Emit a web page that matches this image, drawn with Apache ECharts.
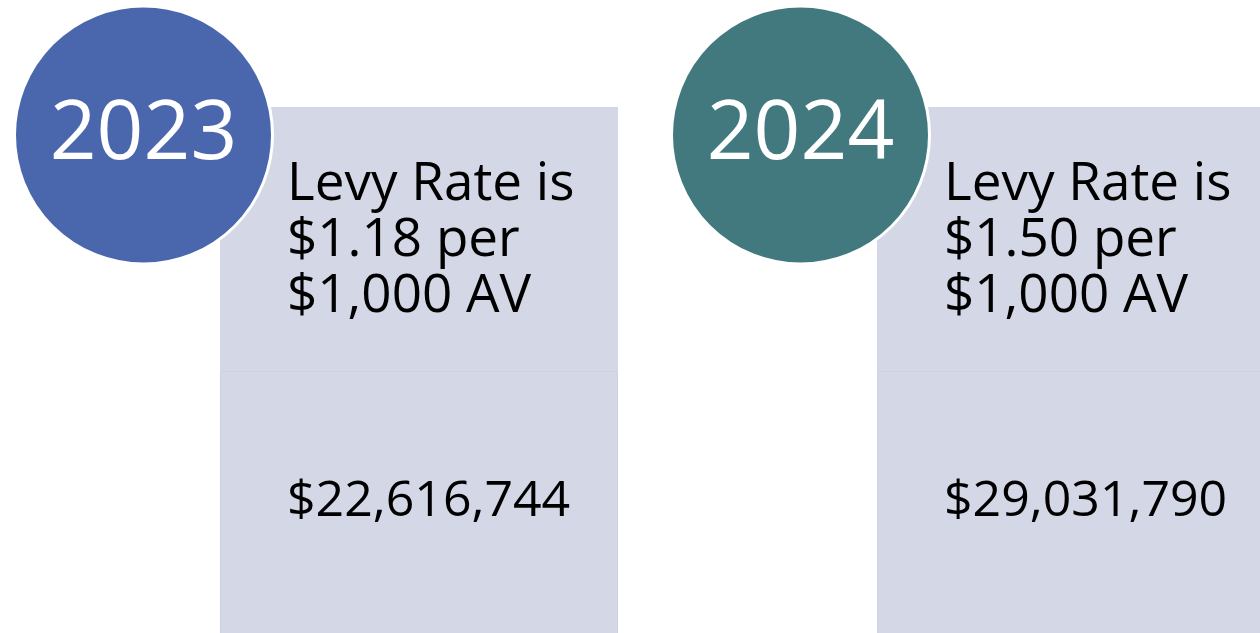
<!DOCTYPE html>
<html>
<head>
<meta charset="utf-8">
<script src="https://cdn.jsdelivr.net/npm/echarts@6/dist/echarts.min.js"></script>
<style>
html, body { margin: 0; padding: 0; background: #fff; }
#levy_chart { width: 1260px; height: 633px; }
</style>
</head>
<body>
<div id="levy_chart"></div>
<script>
var years	= ['2023', '2024'];
var levy_rates	= ['$1.18', '$1.50'];
var levy_totals	= ['$22,616,744', '$29,031,790'];

var circle_colors = ['#4a66ac', '#41797f'];
var box_color	= '#d3d7e6';
var font_family	= '"Open Sans", Lato, sans-serif';

function render_panel(params, api) {
    var idx	= api.value(0);
    var cx	= api.coord([idx, 0])[0];
    var box_x	= cx - 108.5;
    var text_x	= box_x + 67;
    var lines	= ['Levy Rate is', levy_rates[idx] + ' per', '$1,000 AV'];
    var children = [
	{ type: 'rect', shape: { x: box_x, y: 107, width: 398, height: 264 }, style: { fill: box_color } },
	{ type: 'rect', shape: { x: box_x + 0.5, y: 371.5, width: 397, height: 300 }, style: { fill: box_color, stroke: '#cdd1e1', lineWidth: 1 } },
	{ type: 'circle', shape: { cx: cx - 185, cy: 135, r: 129 }, style: { fill: circle_colors[idx], stroke: '#fff', lineWidth: 3 } },
	{ type: 'text', style: { text: years[idx], x: cx - 185, y: 136, fill: '#fff', font: '82px ' + font_family, align: 'center', verticalAlign: 'middle' } }
    ];
    for (var i = 0; i < lines.length; i++) {
	children.push({ type: 'text', style: { text: lines[i], x: text_x, y: 185 + i * 56, fill: '#000', font: '53px ' + font_family, align: 'left', verticalAlign: 'middle' } });
    }
    children.push({ type: 'text', style: { text: levy_totals[idx], x: text_x, y: 502, fill: '#000', font: '50px ' + font_family, align: 'left', verticalAlign: 'middle' } });
    return { type: 'group', children: children };
}

var levy_chart = echarts.init(document.getElementById('levy_chart'));
levy_chart.setOption({
    animation: false,
    grid: { left: 0, top: 0, width: 1314, bottom: 0, outerBoundsMode: 'none' },
    xAxis: { type: 'category', data: years, show: false },
    yAxis: { type: 'value', min: 0, max: 1, show: false },
    series: [
	{
	    type: 'custom',
	    renderItem: render_panel,
	    data: years.map(function (y, i) { return [i]; })
	}
    ]
});
</script>
</body>
</html>
